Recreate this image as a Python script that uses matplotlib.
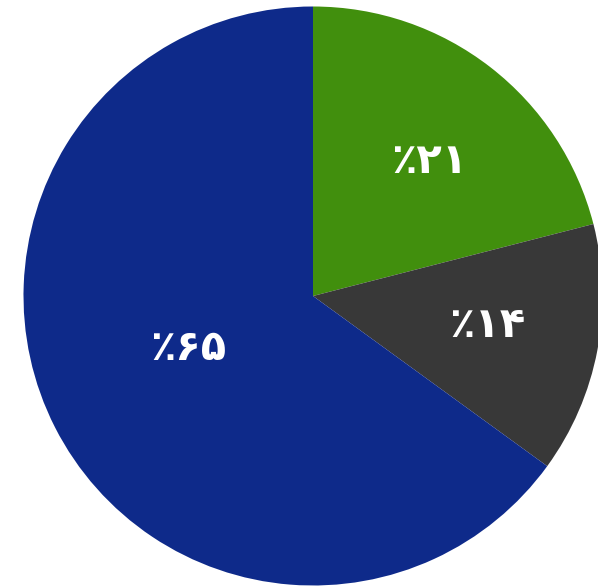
import numpy as np
import matplotlib
matplotlib.use("Agg")
import matplotlib.pyplot as plt

# datos del grafico
valores = [21, 14, 65]
etiquetas = ["٪۲۱", "٪۱۴", "٪۶۵"]
colores = ["#418f0d", "#383838", "#0e2a8a"]
dist_etiq = [0.615, 0.61, 0.468]
desv_ang = [-3.0, 1.2, -4.4]   # pequeno ajuste del angulo de cada etiqueta

fig = plt.figure(figsize=(5.98, 5.87), dpi=100)
ax = fig.add_axes([0, 0, 1, 1])

wedges, _ = ax.pie(valores, colors=colores, startangle=90, counterclock=False,
                   radius=1.0, wedgeprops={"linewidth": 0})

# etiquetas dentro de cada porcion
for w, txt, r, d in zip(wedges, etiquetas, dist_etiq, desv_ang):
    ang = np.deg2rad((w.theta1 + w.theta2) / 2 + d)
    ax.text(r * np.cos(ang), r * np.sin(ang), txt, color="white",
            fontsize=30, fontweight="bold", ha="center", va="center",
            family=["DejaVu Sans"])

# el circulo queda cortado a la derecha
ax.set_xlim(-313 / 289.5, 285 / 289.5)
ax.set_ylim(-291 / 289.5, 296 / 289.5)
ax.set_aspect("equal")
ax.axis("off")

fig.savefig("out.png", dpi=100)
